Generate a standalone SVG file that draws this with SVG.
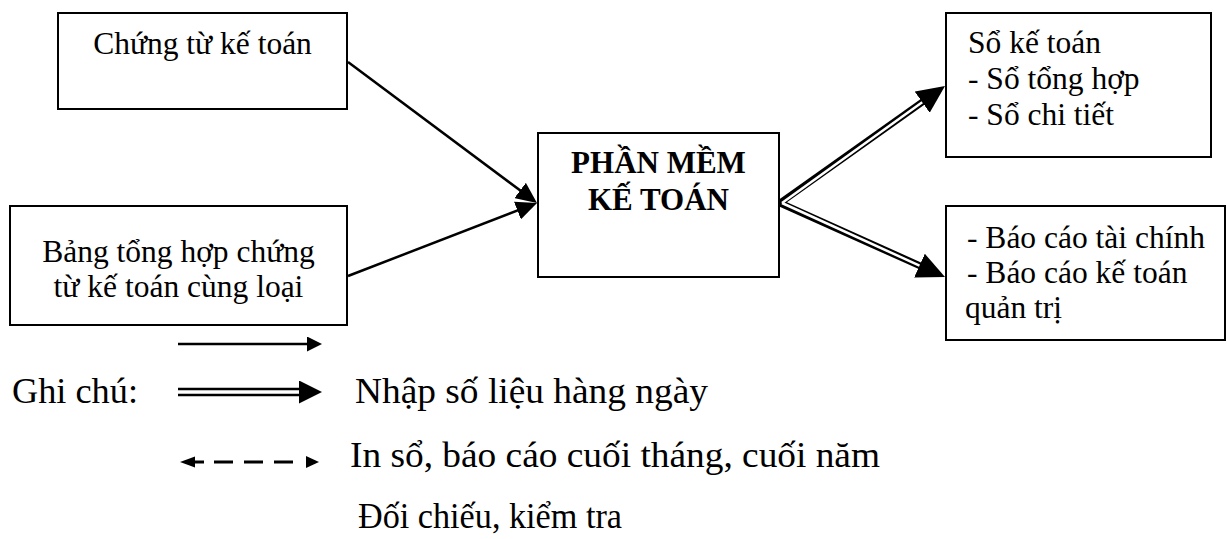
<svg xmlns="http://www.w3.org/2000/svg" width="1227" height="539" viewBox="0 0 1227 539">
  <style>
    .box { fill: #fff; stroke: #000; stroke-width: 2; }
    .txt { font-family: "Liberation Serif", "Times New Roman", serif; font-size: 31.5px; fill: #000; }
    .mid { text-anchor: middle; }
    .bold { font-weight: bold; font-size: 31px; }
    .leg { font-family: "Liberation Serif", "Times New Roman", serif; font-size: 35px; fill: #000; }
    .single { stroke: #000; stroke-width: 2.5; fill: none; }
    .dblOuter { stroke: #000; stroke-width: 7; fill: none; }
    .dblInner { stroke: #fff; stroke-width: 2.5; fill: none; }
  </style>
  <defs>
    <marker id="head" markerUnits="userSpaceOnUse" markerWidth="21" markerHeight="19" viewBox="0 0 21 19" refX="17" refY="9.5" orient="auto">
      <path d="M0,0 L21,9.5 L0,19 z" fill="#000"/>
    </marker>
    <marker id="dhead" markerUnits="userSpaceOnUse" markerWidth="28" markerHeight="26" viewBox="0 0 28 26" refX="2" refY="13" orient="auto">
      <path d="M0,0 L28,13 L0,26 z" fill="#000"/>
    </marker>
    <marker id="headS" markerUnits="userSpaceOnUse" markerWidth="15" markerHeight="15" viewBox="0 0 15 15" refX="1" refY="7.5" orient="auto">
      <path d="M0,0 L15,7.5 L0,15 z" fill="#000"/>
    </marker>
    <marker id="dheadL" markerUnits="userSpaceOnUse" markerWidth="23" markerHeight="23" viewBox="0 0 23 23" refX="2" refY="11.5" orient="auto">
      <path d="M0,0 L23,11.5 L0,23 z" fill="#000"/>
    </marker>
  </defs>

  <!-- input: source vouchers -->
  <g id="chung-tu">
    <rect class="box" x="58" y="13" width="289" height="96"/>
    <text class="txt mid" x="202.5" y="54">Chứng từ kế toán</text>
  </g>

  <!-- input: voucher summary -->
  <g id="bang-tong-hop">
    <rect class="box" x="10" y="206" width="337" height="119"/>
    <text class="txt mid" x="178.5" y="262">Bảng tổng hợp chứng</text>
    <text class="txt mid" x="178.5" y="297">từ kế toán cùng loại</text>
  </g>

  <!-- accounting software -->
  <g id="phan-mem">
    <rect class="box" x="538" y="133" width="241" height="144"/>
    <text class="txt bold mid" x="658.5" y="173">PHẦN MỀM</text>
    <text class="txt bold mid" x="658.5" y="210">KẾ TOÁN</text>
  </g>

  <!-- output: ledgers -->
  <g id="so-ke-toan">
    <rect class="box" x="946" y="13" width="265" height="144"/>
    <text class="txt" x="968" y="53">Sổ kế toán</text>
    <text class="txt" x="968" y="89">- Sổ tổng hợp</text>
    <text class="txt" x="968" y="125">- Sổ chi tiết</text>
  </g>

  <!-- output: reports -->
  <g id="bao-cao">
    <rect class="box" x="946" y="206" width="279" height="134"/>
    <text class="txt" x="967" y="248">- Báo cáo tài chính</text>
    <text class="txt" x="967" y="283">- Báo cáo kế toán</text>
    <text class="txt" x="965" y="318">quản trị</text>
  </g>

  <!-- connectors -->
  <g id="connectors">
    <line class="single" x1="348" y1="62" x2="533.8" y2="200.6" marker-end="url(#head)"/>
    <line class="single" x1="348" y1="276" x2="533.3" y2="204.4" marker-end="url(#head)"/>
    <line class="dblOuter" x1="780" y1="203" x2="923.8" y2="101.0" marker-end="url(#dhead)"/>
    <line class="dblOuter" x1="780" y1="203" x2="921.3" y2="266.4" marker-end="url(#dhead)"/>
    <line class="dblInner" x1="782" y1="203" x2="922.2" y2="102.2"/>
    <line class="dblInner" x1="782" y1="203" x2="919.5" y2="265.6"/>
  </g>

  <!-- legend -->
  <g id="legend">
    <line class="single" x1="178" y1="344" x2="308" y2="344" marker-end="url(#headS)"/>
    <text class="leg" x="12" y="403" textLength="126" lengthAdjust="spacingAndGlyphs">Ghi chú:</text>
    <line stroke="#000" stroke-width="8.5" x1="178" y1="392" x2="301" y2="392" marker-end="url(#dheadL)"/>
    <line stroke="#fff" stroke-width="3.5" x1="178" y1="392" x2="299" y2="392"/>
    <text class="leg" x="355" y="403" textLength="353" lengthAdjust="spacingAndGlyphs">Nhập số liệu hàng ngày</text>
    <polygon points="180,462 195,456.5 195,467.5" fill="#000"/>
    <line stroke="#000" stroke-width="3" x1="194" y1="462" x2="204" y2="462"/>
    <line stroke="#000" stroke-width="3" x1="214" y1="462" x2="298" y2="462" stroke-dasharray="19 11"/>
    <polygon points="319,462 306,456 306,468" fill="#000"/>
    <text class="leg" x="350" y="467" textLength="530" lengthAdjust="spacingAndGlyphs">In sổ, báo cáo cuối tháng, cuối năm</text>
    <text class="leg" x="358" y="528" textLength="264" lengthAdjust="spacingAndGlyphs">Đối chiếu, kiểm tra</text>
  </g>
</svg>
